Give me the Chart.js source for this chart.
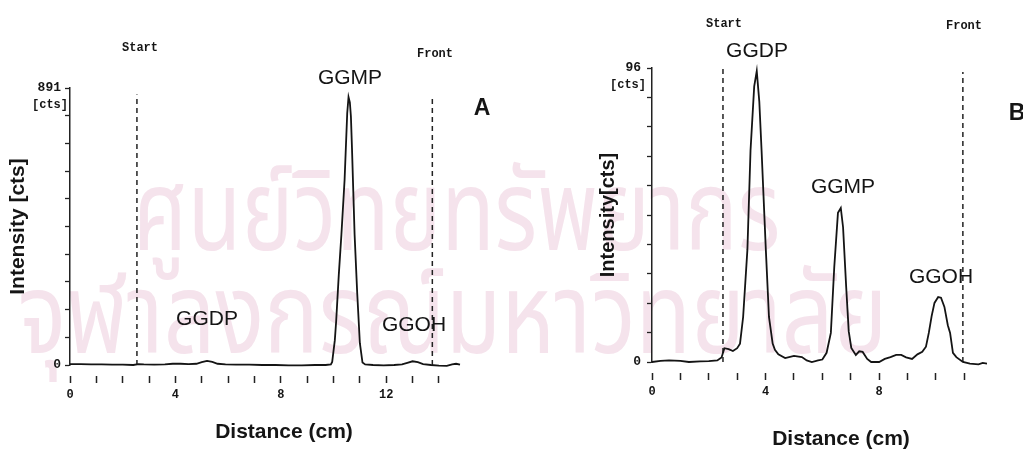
<!DOCTYPE html>
<html><head><meta charset="utf-8">
<script src="https://cdn.jsdelivr.net/npm/chart.js@4.4.1/dist/chart.umd.min.js"></script>
<style>
html,body{margin:0;padding:0;background:#fff;width:1023px;height:449px;overflow:hidden;}
#wrap{position:relative;width:1023px;height:449px;overflow:hidden;}
.wm{position:absolute;color:#f5e3ec;font-family:"Noto Sans Thai","Noto Sans Thai Looped","Loma","Garuda","Tlwg Typo","Noto Sans",sans-serif;white-space:nowrap;line-height:1;transform-origin:0 0;}
canvas{position:absolute;top:0;}
.t{position:absolute;white-space:nowrap;transform:translate(-50%,-50%);color:#151515;line-height:1;}
.pk{font-family:"Liberation Sans",Arial,sans-serif;font-size:21px;}
.mono{font-family:"Liberation Mono","Courier New",monospace;font-weight:bold;font-size:12px;}
.ax{font-family:"Liberation Sans",Arial,sans-serif;font-weight:bold;font-size:21px;}
.pan{font-family:"Liberation Sans",Arial,sans-serif;font-weight:bold;font-size:23px;}
</style></head><body><div id="wrap">
<div class="wm" style="left:133px;top:160px;font-size:112px;transform:scaleX(0.78)">ศูนย์วิทยทรัพยากร</div>
<div class="wm" style="left:18px;top:263px;font-size:112px;transform:scaleX(0.81)">จุฬาลงกรณ์มหาวิทยาลัย</div>
<canvas id="cA" width="510" height="449" style="left:0"></canvas>
<canvas id="cB" width="513" height="449" style="left:510px"></canvas>
<div class="t mono" style="left:140px;top:48px">Start</div>
<div class="t mono" style="left:435px;top:54px">Front</div>
<div class="t pk" style="left:350px;top:76px">GGMP</div>
<div class="t pan" style="left:482px;top:107px">A</div>
<div class="t pk" style="left:207px;top:317px">GGDP</div>
<div class="t pk" style="left:414px;top:323px">GGOH</div>
<div class="t mono" style="left:50px;top:105px">[cts]</div>
<div class="t ax" style="left:284px;top:430px">Distance (cm)</div>
<div class="t mono" style="left:724px;top:24px">Start</div>
<div class="t mono" style="left:964px;top:26px">Front</div>
<div class="t pk" style="left:757px;top:49px">GGDP</div>
<div class="t pk" style="left:843px;top:185px">GGMP</div>
<div class="t pk" style="left:941px;top:275px">GGOH</div>
<div class="t pan" style="left:1017px;top:112px">B</div>
<div class="t mono" style="left:628px;top:85px">[cts]</div>
<div class="t ax" style="left:841px;top:437px">Distance (cm)</div>
</div>
<script>
// Panel A (distance in cm, intensity in cts)
const distanceA = [0,0.4,0.8,1.2,1.6,2.0,2.4,2.6,2.8,3.2,3.6,3.9,4.2,4.5,4.8,5.0,5.2,5.4,5.6,5.9,6.3,6.8,7.3,7.8,8.3,8.8,9.3,9.7,9.9,9.95,10.05,10.1,10.2,10.3,10.42,10.52,10.57,10.62,10.66,10.7,10.75,10.8,10.9,11.0,11.1,11.2,11.5,11.9,12.3,12.6,12.8,13.0,13.2,13.4,13.7,14.0,14.3,14.5,14.65,14.8];
const intensityA = [3,3,2,2,1,1,0,3,2,1,2,4,4,3,4,9,13,10,4,2,1,1,0,0,-1,-1,0,0,2,10,80,140,290,420,595,810,862,845,800,700,560,420,230,70,8,2,0,-1,0,2,7,12,9,3,0,-2,-3,2,4,1];
const markerPosA = [2.54, 13.75];   // Start, Front
const markerTopA = [870, 862];
const xMaxA = 14.8;
const yMaxA = 891;

// Panel B
const distanceB = [0,0.3,0.6,1.0,1.3,1.7,2.0,2.3,2.45,2.55,2.7,2.85,3.0,3.1,3.21,3.36,3.47,3.6,3.69,3.78,3.86,4.01,4.12,4.25,4.33,4.45,4.69,5.0,5.28,5.45,5.63,5.85,6.0,6.15,6.3,6.42,6.55,6.65,6.73,6.84,6.93,7.02,7.18,7.3,7.42,7.58,7.72,8.0,8.2,8.4,8.6,8.78,8.95,9.16,9.35,9.52,9.65,9.75,9.85,9.95,10.08,10.18,10.3,10.42,10.5,10.6,10.72,10.95,11.2,11.5,11.65,11.8];
const intensityB = [0,0.4,0.5,0.4,0,0.2,0.3,0.5,1.5,4.5,4.2,3.6,4.5,6,14.7,36.6,69,90,95,85,69,36.6,14.7,6,4,2.5,1.3,2,1.6,0.5,0,0.5,0.8,3,9.5,31,48.7,50.3,44,24.5,10,4.6,2.3,3.5,3.3,1,0,0,1,1.6,2.3,2.3,1.5,1.0,2.5,3.3,5,9.5,15,19.3,21.2,21,18,12,9.5,3,1.6,0,-0.5,-0.8,-0.3,-0.5];
const markerPosB = [2.5, 10.95];
const markerTopB = [96, 94.7];
const xMaxB = 11.8;
const yMaxB = 96;

const xTickLabels = ['0','4','8','12'];
const yDivisions = 10;

function makeChart(id, xs, ys, marks, tops, xMax, yMax, yTitle, g) {
  const datasets = [{
    data: xs.map((x, i) => ({x: x, y: ys[i]})),
    borderColor: '#141414', borderWidth: 1.8, pointRadius: 0, tension: 0, clip: false
  }];
  marks.forEach((m, i) => datasets.push({
    data: [{x: m, y: 0}, {x: m, y: tops[i]}],
    borderColor: '#222', borderWidth: 1.5, borderDash: [5, 4], pointRadius: 0, clip: false
  }));
  return new Chart(document.getElementById(id), {
    type: 'line',
    data: {datasets: datasets},
    options: {
      responsive: false, animation: false, events: [],
      plugins: {legend: {display: false}, tooltip: {enabled: false}},
      layout: {padding: {left: g.pl, top: g.pt, right: g.pr, bottom: 0}},
      scales: {
        x: {
          type: 'linear', min: 0, max: xMax,
          afterFit(s) { s.height = g.xh; },
          border: {display: false},
          grid: {drawOnChartArea: false, color: '#222', tickLength: 20, tickWidth: 1.5, tickBorderDash: [0, 11, 7, 40]},
          ticks: {stepSize: 1, includeBounds: false, autoSkip: false, maxRotation: 0, padding: 3, color: '#151515',
            font: {family: 'Liberation Mono', weight: 'bold', size: 12},
            callback: (v) => xTickLabels.includes(String(v)) ? String(v) : ''}
        },
        y: {
          type: 'linear', min: 0, max: yMax,
          afterFit(s) { s.width = g.yw; },
          afterBuildTicks(s) { s.ticks = Array.from({length: yDivisions + 1}, (_, i) => ({value: i * yMax / yDivisions})); },
          border: {display: true, color: '#222', width: 1.5},
          grid: {drawOnChartArea: false, color: '#222', tickLength: 5, tickWidth: 1.3},
          ticks: {autoSkip: false, padding: g.tp, color: '#151515',
            font: {family: 'Liberation Mono', weight: 'bold', size: 13},
            callback: (v) => (v === 0 ? '0' : (Math.abs(v - yMax) < 1e-9 ? String(yMax) : ''))},
          title: {display: true, text: yTitle, color: '#151515',
            font: {family: 'Liberation Sans', weight: 'bold', size: g.ts}, padding: {top: 6, bottom: 0}}
        }
      }
    }
  });
}

makeChart('cA', distanceA, intensityA, markerPosA, markerTopA, xMaxA, yMaxA, 'Intensity [cts]',
  {pl: 0, pt: 88, pr: 50, xh: 84, yw: 70, tp: 4, ts: 21});
makeChart('cB', distanceB, intensityB, markerPosB, markerTopB, xMaxB, yMaxB, 'Intensity[cts]',
  {pl: 80, pt: 68, pr: 36, xh: 87, yw: 62, tp: 6, ts: 20});
</script>
</body></html>
